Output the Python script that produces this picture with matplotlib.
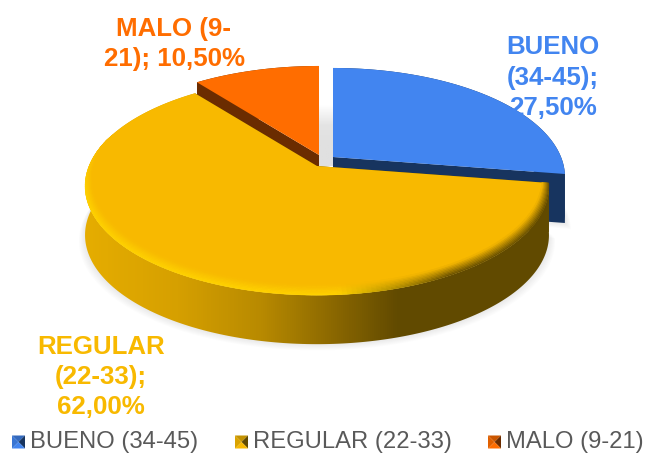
import numpy as np
import matplotlib
matplotlib.use('Agg')
import matplotlib.pyplot as plt
from matplotlib.colors import LinearSegmentedColormap, to_rgb
from matplotlib.collections import PolyCollection
from matplotlib.patches import Polygon

plt.rcParams['font.family'] = ['Liberation Sans', 'DejaVu Sans']

# Data
categories = ['BUENO (34-45)', 'REGULAR (22-33)', 'MALO (9-21)']
values = [27.5, 62.0, 10.5]
value_labels = ['27,50%', '62,00%', '10,50%']

top_colors = ['#4285F0', '#F8B900', '#FF6D00']
side_colors = ['#17345F', '#614A00', '#6B2C00']

# where each slice apex lands after the explosion (pixels)
apex = [(333, 157), (317, 166), (319, 155)]

RX, RY, K, DEPTH = 228, 105.4, 0.184, 49

fig = plt.figure(figsize=(6.46, 4.54), dpi=100)
ax = fig.add_axes([0, 0, 1, 1])
ax.axis('off')


def project(a, r, center):
    # angle clockwise from the top, simple perspective on the far side
    u = r * np.sin(a)
    v = r * np.cos(a)
    w = 1 + K * v
    return center[0] + RX * u / w, center[1] - RY * v / w


def mix(c0, c1, f):
    return tuple(np.array(to_rgb(c0)) * (1 - f) + np.array(to_rgb(c1)) * f)


def rim_color(x):
    # the bevel catches light on the left and falls dark on the right
    if x < 340:
        return '#FFD400'
    return mix('#FFD400', side_colors[1], np.clip((x - 340) / 110, 0, 1))


edges = np.radians(np.concatenate([[0], np.cumsum(values)]) * 3.6)
slices = list(zip(edges[:-1], edges[1:]))

# shadow in the gap
shade = LinearSegmentedColormap.from_list('shade', ['#FFFFFF', '#E4E4E4', '#E0E0E0', '#E0E0E0'])
ax.imshow(np.linspace(0, 1, 40).reshape(-1, 1), cmap=shade, vmin=0, vmax=1, aspect='auto',
          extent=[319, 334, 166, 104], zorder=1)

# yellow wall goes from gold on the left to brown on the right, flat after x=400
wall_map = LinearSegmentedColormap.from_list('wall', [(0, '#E8AF00'), (0.2, '#D6A000'), (0.36, '#B88A00'),
                                                      (0.5, '#8A6700'), (0.62, side_colors[1]),
                                                      (1, side_colors[1])])


def draw_shadow(i, z):
    a0, a1 = slices[i]
    c = apex[i]
    t = np.linspace(a0, a1, 200)
    x, y = project(t, 1, c)
    for grow in range(1, 8):
        ax.fill(np.r_[c[0], x + grow * np.sin(t) * 0.9], np.r_[c[1] + DEPTH, y + DEPTH + grow * 0.9],
                color='#000000', alpha=0.012, lw=0, zorder=z)


def draw_slice(i, z):
    a0, a1 = slices[i]
    c = apex[i]
    t = np.linspace(a0, a1, 240)
    x, y = project(t, 1, c)
    # cut faces
    for a in (a0, a1):
        ex, ey = project(a, 1, c)
        ax.fill([c[0], ex, ex, c[0]], [c[1], ey, ey + DEPTH, c[1] + DEPTH],
                color=side_colors[i], zorder=z, lw=0)
    # outer wall
    wall = np.c_[np.r_[x, x[::-1]], np.r_[y, y[::-1] + DEPTH]]
    if i == 1:
        clip = Polygon(wall, closed=True, transform=ax.transData, fc='none', ec='none')
        ax.add_patch(clip)
        im = ax.imshow(np.linspace(0, 1, 530).reshape(1, -1), cmap=wall_map, vmin=0, vmax=1, aspect='auto',
                       extent=[70, 600, 400, 60], zorder=z)
        im.set_clip_path(clip)
    else:
        ax.fill(wall[:, 0], wall[:, 1], color=side_colors[i], lw=0, zorder=z)
    ax.fill(np.r_[c[0], x], np.r_[c[1], y], color=top_colors[i], zorder=z + 0.5, lw=0)


def draw_bevel(z):
    # soft rim along the front of the yellow slice
    a0, a1 = slices[1]
    c = apex[1]
    t = np.linspace(a0, min(a1, np.radians(285)), 180)
    rings = 8
    quads = []
    cols = []
    for k in range(rings):
        r0, r1 = 1 - 0.03 * k / rings, 1 - 0.03 * (k + 1) / rings
        s0, s1 = 6 * k / rings, 6 * (k + 1) / rings
        x0, y0 = project(t, r0, c)
        x1, y1 = project(t, r1, c)
        # the shift fades out at the cut edge so the rim stays inside the slice
        ramp = np.clip((t - a0) / 0.12, 0, 1)
        for j in range(len(t) - 1):
            quads.append([(x0[j], y0[j] - s0 * ramp[j]), (x0[j + 1], y0[j + 1] - s0 * ramp[j + 1]),
                          (x1[j + 1], y1[j + 1] - s1 * ramp[j + 1]), (x1[j], y1[j] - s1 * ramp[j])])
            fade = np.clip((np.radians(285) - t[j]) / 0.5, 0, 1)
            cols.append(mix(top_colors[1], rim_color(x0[j]), (1 - (k + 0.5) / rings) * fade))
    ax.add_collection(PolyCollection(quads, facecolors=cols, edgecolors=cols, linewidths=0.3, zorder=z))


draw_shadow(0, 1.5)
draw_shadow(1, 1.5)
draw_slice(0, 2)
draw_slice(2, 3)
draw_slice(1, 4)
draw_bevel(5)

# slice labels
label_pos = [(553, 77.5), (101, 377), (174, 44)]
label_text = ['BUENO\n(34-45);\n' + value_labels[0],
              'REGULAR\n(22-33);\n' + value_labels[1],
              'MALO (9-\n21); ' + value_labels[2]]
for i, (px, py) in enumerate(label_pos):
    ax.text(px, py, label_text[i], color=top_colors[i], fontsize=18.6, fontweight='bold',
            ha='center', va='center', linespacing=1.33, zorder=10)

# legend with the small bevelled keys
legend_x = [12, 235, 488]
for i, lx in enumerate(legend_x):
    ly, s = 435.5, 13
    mid = (lx + s / 2, ly + s / 2)
    corners = [(lx, ly), (lx + s, ly), (lx + s, ly + s), (lx, ly + s)]
    shades = [mix(top_colors[i], side_colors[i], 0.35), side_colors[i],
              top_colors[i], mix(top_colors[i], side_colors[i], 0.2)]
    for k in range(4):
        p, q = corners[k], corners[(k + 1) % 4]
        ax.fill([p[0], q[0], mid[0]], [p[1], q[1], mid[1]], color=shades[k], lw=0, zorder=5)
    ax.text(lx + s + 5, 442, categories[i], color='#595959', fontsize=17.1,
            ha='left', va='center', zorder=5)

ax.set_xlim(0, 646)
ax.set_ylim(454, 0)

fig.savefig('out.png', dpi=100)
